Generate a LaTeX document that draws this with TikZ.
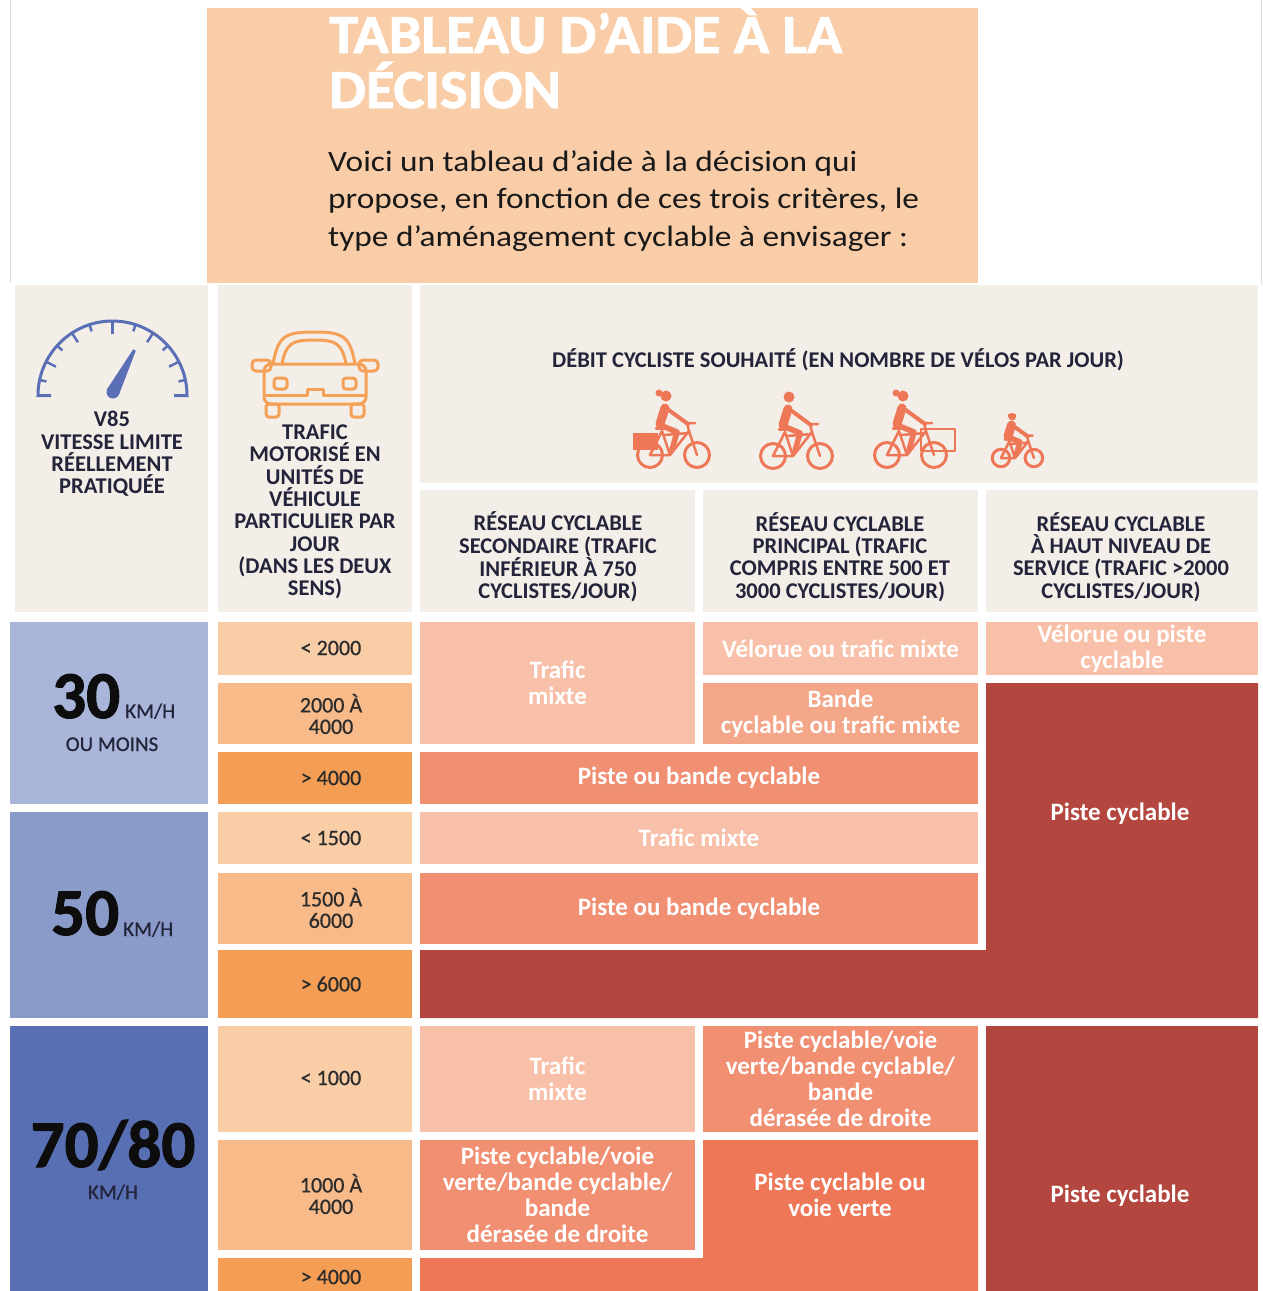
\documentclass[tikz,border=0pt]{standalone}
\usepackage{fontspec}
\setmainfont{Carlito}
\newfontfamily\heavyf[BoldFeatures={FakeBold=1.6}]{Carlito}
\newfontfamily\titlef[FakeStretch=1.06, BoldFeatures={FakeBold=1.6}]{Carlito}
\newfontfamily\bodyf[FakeStretch=1.13]{Carlito}
\newfontfamily\valf[FakeBold=0.7]{Carlito}
\usetikzlibrary{calc}
\definecolor{peach}{HTML}{F9CDA8}
\definecolor{beige}{HTML}{F3EEE8}
\definecolor{blueA}{HTML}{A9B6DA}
\definecolor{blueB}{HTML}{8A9BCA}
\definecolor{blueC}{HTML}{586FB3}
\definecolor{orA}{HTML}{F9CEA6}
\definecolor{orB}{HTML}{F7BA88}
\definecolor{orC}{HTML}{F49E55}
\definecolor{saA}{HTML}{F8C0A9}
\definecolor{saB}{HTML}{F4A688}
\definecolor{saC}{HTML}{F18F73}
\definecolor{saD}{HTML}{EE7757}
\definecolor{redc}{HTML}{B34740}
\definecolor{hdrc}{HTML}{23233A}
\definecolor{valc}{HTML}{2B2B2B}
\definecolor{gaugec}{HTML}{5A6FB5}
\definecolor{carc}{HTML}{F5A057}
\definecolor{bikec}{HTML}{EE7757}
\definecolor{edge}{HTML}{DDDDDD}
\tikzset{
  cellbase/.style={inner sep=0pt, outer sep=0pt, draw=none, align=center},
  celltxt/.style={cellbase, text=white, font=\bfseries\fontsize{25}{26}\selectfont},
  valtxt/.style={inner sep=0pt, align=center, text=valc, font=\valf\fontsize{22}{21.5}\selectfont},
  blank/.style={cellbase},
  hdrtxt/.style={align=center, inner sep=0pt, text=hdrc, font=\bfseries\fontsize{22.5}{22.3}\selectfont},
  titletxt/.style={inner sep=0pt, text=white, font=\titlef\bfseries\fontsize{55}{55}\selectfont},
  bodytxt/.style={inner sep=0pt, text=black!90, font=\bodyf\fontsize{29.5}{38}\selectfont},
  bignum/.style={inner sep=0pt, text=black!95, font=\heavyf\bfseries\fontsize{67}{67}\selectfont},
  kmh/.style={inner sep=0pt, text=hdrc, font=\valf\fontsize{21}{21}\selectfont},
  gauge/.style={draw=gaugec, line width=3pt},
  carl/.style={draw=carc, line width=3pt, line join=round, line cap=round},
  bikel/.style={draw=bikec, line width=3pt, line cap=round, line join=round}
}
% name, x1, y1, x2, y2, colour, text
\newcommand{\tcell}[8][celltxt]{\node[#1, fill=#7, minimum width=#5pt-#3pt, minimum height=#6pt-#4pt] (#2) at ({(#3+#5)/2},{(#4+#6)/2}) {#8};}
\newcommand{\bikeicon}[4]{% x, y, scale, extra
  \begin{scope}[shift={(#1,#2)}, scale=#3]
    \draw[bikel] (0,0) circle (12.5);
    \draw[bikel] (47,0) circle (12.5);
    \draw[bikel, line width=2.5pt] (0,0) -- (20,0) -- (12,-24) -- cycle;
    \draw[bikel, line width=2.5pt] (20,0) -- (39,-24) -- (47,0);
    \draw[bikel, line width=2.5pt] (14,-20) -- (39,-22);
    \draw[bikel, line width=2.5pt] (39,-24) -- (37,-32) -- (45,-32);
    \draw[bikel, line width=3pt] (6,-27) -- (17,-27);
    \fill[bikec] (16,-59) circle (5.5);
    \draw[bikel, line width=9pt] (10,-31) -- (15,-47);
    \draw[bikel, line width=4pt] (16,-47) -- (38,-31);
    \draw[bikel, line width=5.5pt] (10,-30) -- (27,-23) -- (22,-5);
    #4
  \end{scope}}
\begin{document}
\begin{tikzpicture}[x=1pt,y=-1pt]
\useasboundingbox (0,0) rectangle (1263,1291);
\fill[white] (0,0) rectangle (1263,1291);
% page edges
\draw[edge, line width=1pt] (10,0) -- (10,283);
\draw[edge, line width=1pt] (1261,0) -- (1261,285);
% ---------- title box
\tcell[blank]{titlebox}{207}{8}{978}{283}{peach}{}
\node[titletxt, anchor=base west] (t1) at (329,53) {TABLEAU D’AIDE À LA};
\node[titletxt, anchor=base west] (t2) at (329,108) {DÉCISION};
\node[bodytxt, anchor=base west] (b1) at (328,171) {Voici un tableau d’aide à la décision qui};
\node[bodytxt, anchor=base west] (b2) at (328,208.5) {propose, en fonction de ces trois critères, le};
\node[bodytxt, anchor=base west] (b3) at (328,246) {type d’aménagement cyclable à envisager :};
% ---------- header row
\tcell[blank]{hA}{15}{285}{208}{612}{beige}{}
\tcell[blank]{hB}{218}{285}{412}{612}{beige}{}
\tcell[blank]{hC}{420}{285}{1258}{483}{beige}{}
\tcell[blank]{hC1}{420}{490}{695}{612}{beige}{}
\tcell[blank]{hC2}{703}{490}{978}{612}{beige}{}
\tcell[blank]{hC3}{986}{490}{1258}{612}{beige}{}
\node[hdrtxt] (tC1) at (558,557) {RÉSEAU CYCLABLE\\SECONDAIRE (TRAFIC\\INFÉRIEUR À 750\\CYCLISTES/JOUR)};
\node[hdrtxt] (tC2) at (840,557) {RÉSEAU CYCLABLE\\PRINCIPAL (TRAFIC\\COMPRIS ENTRE 500 ET\\3000 CYCLISTES/JOUR)};
\node[hdrtxt] (tC3) at (1121,557) {RÉSEAU CYCLABLE\\À HAUT NIVEAU DE\\SERVICE (TRAFIC >2000\\CYCLISTES/JOUR)};
\node[hdrtxt] (tA) at (112,454) {V85\\VITESSE LIMITE\\RÉELLEMENT\\PRATIQUÉE};
\node[hdrtxt] (tB) at (315,512) {TRAFIC\\MOTORISÉ EN\\UNITÉS DE\\VÉHICULE\\PARTICULIER PAR\\JOUR\\(DANS LES DEUX\\SENS)};
\node[hdrtxt] (tC) at (838,360) {DÉBIT CYCLISTE SOUHAITÉ (EN NOMBRE DE VÉLOS PAR JOUR)};
% ---------- speedometer
\draw[gauge] (51,395.5) -- (38,395.5) arc[start angle=180, end angle=360, radius=74.5] -- (174,395.5);
\foreach \a/\l in {192/7, 207/11, 222/7, 237/11, 252/7, 270/13, 288/7, 303/11, 318/7, 333/11, 348/7}
  \draw[gauge, line width=2.5pt, shift={(112.5,395.5)}] (\a:74.5) -- (\a:{74.5-\l});
\fill[gaugec] (113,392) circle (6.5);
\fill[gaugec] (107.2,389) -- (133.2,349.3) -- (135.8,350.7) -- (118.8,395) -- cycle;
% ---------- car
\draw[carl] (273,364) .. controls (278,336) and (285,332) .. (314,332) .. controls (343,332) and (350,336) .. (355,364);
\draw[carl] (282,364) .. controls (286,344) and (291,340) .. (314,340) .. controls (337,340) and (342,344) .. (346,364);
\draw[carl, rounded corners=7] (264,404) rectangle (366,364);
\draw[carl, rounded corners=4] (252,360) rectangle (271,371);
\draw[carl, rounded corners=4] (359,360) rectangle (378,371);
\draw[carl, rounded corners=3] (274,378) rectangle (287,389);
\draw[carl, rounded corners=3] (343,378) rectangle (356,389);
\draw[carl] (266,395) -- (307,395) -- (307,389) -- (323,389) -- (323,395) -- (364,395);
\draw[carl, rounded corners=3] (266,404) rectangle (279,417);
\draw[carl, rounded corners=3] (351,404) rectangle (364,417);
% ---------- bikes
\bikeicon{650}{455}{1}{\fill[bikec] (-17,-22) rectangle (8,-5); \fill[bikec] (9,-62) circle (3.5);}
\bikeicon{773}{456}{1}{}
\bikeicon{887}{455}{1}{\draw[bikel, line width=2.5pt] (34,-26) rectangle (68,-4); \fill[bikec] (9,-62) circle (3.5);}
\bikeicon{1001}{458}{0.7}{\fill[bikec] (10,-63) rectangle (22,-59);}
% ---------- speed column
\tcell[blank]{s30}{10}{622}{208}{804}{blueA}{}
\tcell[blank]{s50}{10}{812}{208}{1018}{blueB}{}
\tcell[blank]{s70}{10}{1026}{208}{1291}{blueC}{}
\node[bignum, anchor=base west] (n30) at (52,718) {30};
\node[kmh, anchor=base west] (k30) at (125,718) {KM/H};
\node[kmh, anchor=base] (m30) at (112,751) {OU MOINS};
\node[bignum, anchor=base west] (n50) at (51,935) {50};
\node[kmh, anchor=base west] (k50) at (123,936) {KM/H};
\node[bignum, anchor=base] (n70) at (113,1167) {70/80};
\node[kmh, anchor=base] (k70) at (113,1199) {KM/H};
% ---------- traffic column
\tcell[blank]{v1}{218}{622}{412}{675}{orA}{}
\tcell[blank]{v2}{218}{683}{412}{744}{orB}{}
\tcell[blank]{v3}{218}{752}{412}{804}{orC}{}
\tcell[blank]{v4}{218}{812}{412}{864}{orA}{}
\tcell[blank]{v5}{218}{873}{412}{944}{orB}{}
\tcell[blank]{v6}{218}{950}{412}{1018}{orC}{}
\tcell[blank]{v7}{218}{1026}{412}{1132}{orA}{}
\tcell[blank]{v8}{218}{1140}{412}{1250}{orB}{}
\tcell[blank]{v9}{218}{1258}{412}{1291}{orC}{}
\node[valtxt] (w1) at (331,648) {< 2000};
\node[valtxt] (w2) at (331,714) {2000 À\\4000};
\node[valtxt] (w3) at (331,778) {> 4000};
\node[valtxt] (w4) at (331,838) {< 1500};
\node[valtxt] (w5) at (331,908) {1500 À\\6000};
\node[valtxt] (w6) at (331,984) {> 6000};
\node[valtxt] (w7) at (331,1078) {< 1000};
\node[valtxt] (w8) at (331,1194) {1000 À\\4000};
\node[valtxt] (w9) at (331,1277) {> 4000};
% ---------- 30 km/h results
\tcell{r1}{420}{622}{695}{744}{saA}{Trafic\\mixte}
\tcell{r2}{703}{622}{978}{675}{saA}{Vélorue ou trafic mixte}
\tcell{r3}{986}{622}{1258}{675}{saA}{Vélorue ou piste\\cyclable}
\tcell{r4}{703}{683}{978}{744}{saB}{Bande\\cyclable ou trafic mixte}
\tcell{r5}{420}{752}{978}{804}{saC}{Piste ou bande cyclable}
% ---------- 50 km/h results
\tcell{r6}{420}{812}{978}{864}{saA}{Trafic mixte}
\tcell{r7}{420}{873}{978}{944}{saC}{Piste ou bande cyclable}
\fill[redc] (986,683) -- (1258,683) -- (1258,1018) -- (420,1018) -- (420,950) -- (986,950) -- cycle;
\node[celltxt] (r8) at (1120,814) {Piste cyclable};
% ---------- 70/80 km/h results
\tcell{r9}{420}{1026}{695}{1132}{saA}{Trafic\\mixte}
\tcell{r10}{703}{1026}{978}{1132}{saC}{Piste cyclable/voie\\verte/bande cyclable/\\bande\\dérasée de droite}
\fill[saD] (703,1140) -- (978,1140) -- (978,1291) -- (420,1291) -- (420,1258) -- (703,1258) -- cycle;
\node[celltxt] (r12) at (840,1195) {Piste cyclable ou\\voie verte};
\tcell{r11}{420}{1140}{695}{1250}{saC}{Piste cyclable/voie\\verte/bande cyclable/\\bande\\dérasée de droite}
\tcell[blank]{r13}{986}{1026}{1258}{1291}{redc}{}
\node[celltxt] (r13t) at (1120,1196) {Piste cyclable};
\end{tikzpicture}
\end{document}
